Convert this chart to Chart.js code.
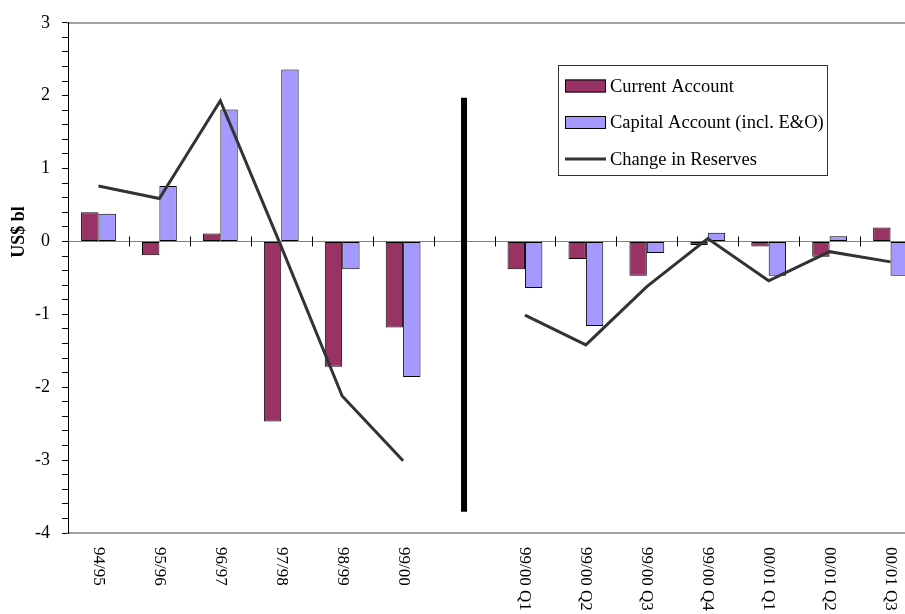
<!DOCTYPE html>
<html>
<head>
<meta charset="utf-8">
<script src="https://cdn.jsdelivr.net/npm/chart.js@4/dist/chart.umd.min.js"></script>
<style>
  html, body { margin: 0; padding: 0; background: #fff; overflow: hidden; }
  canvas { display: block; }
</style>
</head>
<body>
<canvas id="chart" width="935" height="650"></canvas>
<script>
// periods (the blank one is the gap between annual and quarterly data)
const periods = ['94/95', '95/96', '96/97', '97/98', '98/99', '99/00', '',
  '99/00 Q1', '99/00 Q2', '99/00 Q3', '99/00 Q4', '00/01 Q1', '00/01 Q2', '00/01 Q3'];
const currentAccount = [0.40, -0.19, 0.11, -2.47, -1.72, -1.18, null, -0.38, -0.24, -0.47, -0.05, -0.07, -0.21, 0.19];
const capitalAccount = [0.38, 0.76, 1.81, 2.36, -0.38, -1.86, null, -0.64, -1.16, -0.16, 0.12, -0.47, 0.07, -0.47];
const reserveChange = [0.76, 0.59, 1.93, -0.07, -2.12, -3.01, null, -1.01, -1.42, -0.62, 0.04, -0.54, -0.14, -0.28];
// thick divider between the two halves: top and bottom value, at the blank period
const dividerEnds = [1.97, -3.71];
const yTitle = 'US$ bl';

const serif = '"Liberation Serif", "Times New Roman", serif';

const extras = {
  id: 'extras',
  beforeDatasetsDraw(chart) {
    const { ctx, chartArea, scales } = chart;
    const y0 = scales.y.getPixelForValue(0);
    const step = chartArea.width / periods.length;
    ctx.save();
    ctx.strokeStyle = '#000';
    ctx.lineWidth = 1;
    for (let i = 1; i < periods.length; i++) {
      const x = Math.round(chartArea.left + i * step) + 0.5;
      ctx.beginPath();
      ctx.moveTo(x, y0 - 5);
      ctx.lineTo(x, y0 + 5);
      ctx.stroke();
    }
    ctx.restore();
  },
  afterDraw(chart) {
    const { ctx, scales } = chart;
    ctx.save();
    // category labels, rotated clockwise
    ctx.fillStyle = '#000';
    ctx.font = '17px ' + serif;
    ctx.textAlign = 'left';
    ctx.textBaseline = 'middle';
    periods.forEach((p, i) => {
      const x = scales.x.getPixelForValue(i);
      ctx.save();
      ctx.translate(x, 547);
      ctx.rotate(Math.PI / 2);
      ctx.fillText(p, 0, 0);
      ctx.restore();
    });

    // y axis title
    ctx.save();
    ctx.font = 'bold 18px ' + serif;
    ctx.textAlign = 'center';
    ctx.textBaseline = 'middle';
    ctx.translate(19, 232);
    ctx.rotate(-Math.PI / 2);
    ctx.fillText(yTitle, 0, 0);
    ctx.restore();

    // legend box
    const ds = chart.data.datasets;
    const items = [ds[1], ds[2], ds[0]];
    ctx.fillStyle = '#fff';
    ctx.fillRect(558, 65, 269, 110);
    ctx.strokeStyle = '#333';
    ctx.lineWidth = 1;
    ctx.strokeRect(558.5, 65.5, 269, 110);
    ctx.font = '18.5px ' + serif;
    ctx.textAlign = 'left';
    ctx.textBaseline = 'middle';
    items.forEach((d, i) => {
      const cy = 86 + i * 36.5;
      if (d.type === 'line') {
        ctx.strokeStyle = d.borderColor;
        ctx.lineWidth = 3;
        ctx.beginPath();
        ctx.moveTo(565, cy);
        ctx.lineTo(606, cy);
        ctx.stroke();
      } else {
        ctx.fillStyle = d.backgroundColor;
        ctx.fillRect(565, cy - 6.5, 41, 13);
        ctx.strokeStyle = '#000';
        ctx.lineWidth = 1;
        ctx.strokeRect(565.5, cy - 6, 40, 12);
      }
      ctx.fillStyle = '#000';
      ctx.fillText(d.label, 610, cy + 1);
    });
    ctx.restore();
  }
};

const ctx = document.getElementById('chart').getContext('2d');
new Chart(ctx, {
  type: 'bar',
  data: {
    labels: periods,
    datasets: [{
      type: 'line',
      label: 'Change in Reserves',
      data: reserveChange,
      borderColor: '#333333',
      backgroundColor: '#333333',
      borderWidth: 3,
      pointRadius: 0,
      tension: 0,
      spanGaps: false,
      order: 0
    }, {
      label: 'Current Account',
      data: currentAccount,
      backgroundColor: '#993366',
      borderColor: '#000',
      borderWidth: 1,
      borderSkipped: false,
      categoryPercentage: 0.571,
      barPercentage: 1,
      order: 2
    }, {
      label: 'Capital Account (incl. E&O)',
      data: capitalAccount,
      backgroundColor: '#A399FF',
      borderColor: '#000',
      borderWidth: 1,
      borderSkipped: false,
      categoryPercentage: 0.571,
      barPercentage: 1,
      order: 2
    }, {
      type: 'line',
      label: 'divider',
      data: dividerEnds.map(v => ({ x: periods[6], y: v })),
      borderColor: '#000',
      borderWidth: 6,
      borderCapStyle: 'butt',
      pointRadius: 0,
      order: 1
    }]
  },
  options: {
    responsive: false,
    animation: false,
    layout: { padding: { left: 0, right: 14, top: 0, bottom: 0 } },
    plugins: {
      legend: { display: false },
      tooltip: { enabled: false }
    },
    scales: {
      x: {
        type: 'category',
        position: 'bottom',
        offset: true,
        grid: { display: false },
        ticks: { display: false },
        border: { display: true, color: '#a0a0a0', width: 2 },
        afterFit(scale) { scale.height = 650 - 533; }
      },
      x2: {
        type: 'category',
        position: 'top',
        offset: true,
        labels: periods,
        grid: { display: false },
        ticks: { display: false },
        border: { display: true, color: '#a0a0a0', width: 2 },
        afterFit(scale) { scale.height = 20; }
      },
      y: {
        min: -4,
        max: 3,
        ticks: {
          stepSize: 0.2,
          autoSkip: false,
          padding: 12,
          color: '#000',
          font: { family: serif, size: 18 },
          callback(v) {
            const r = Math.round(v);
            return Math.abs(v - r) < 1e-6 ? String(r) : '';
          }
        },
        grid: {
          drawOnChartArea: true,
          tickLength: 6,
          tickColor: '#000',
          color(c) {
            return c.tick && Math.abs(c.tick.value) < 1e-6 ? '#808080' : 'rgba(0,0,0,0)';
          },
          lineWidth: 1
        },
        border: { display: true, color: '#000', width: 1 },
        afterFit(scale) { scale.width = 68; }
      }
    }
  },
  plugins: [extras]
});
</script>
</body>
</html>
